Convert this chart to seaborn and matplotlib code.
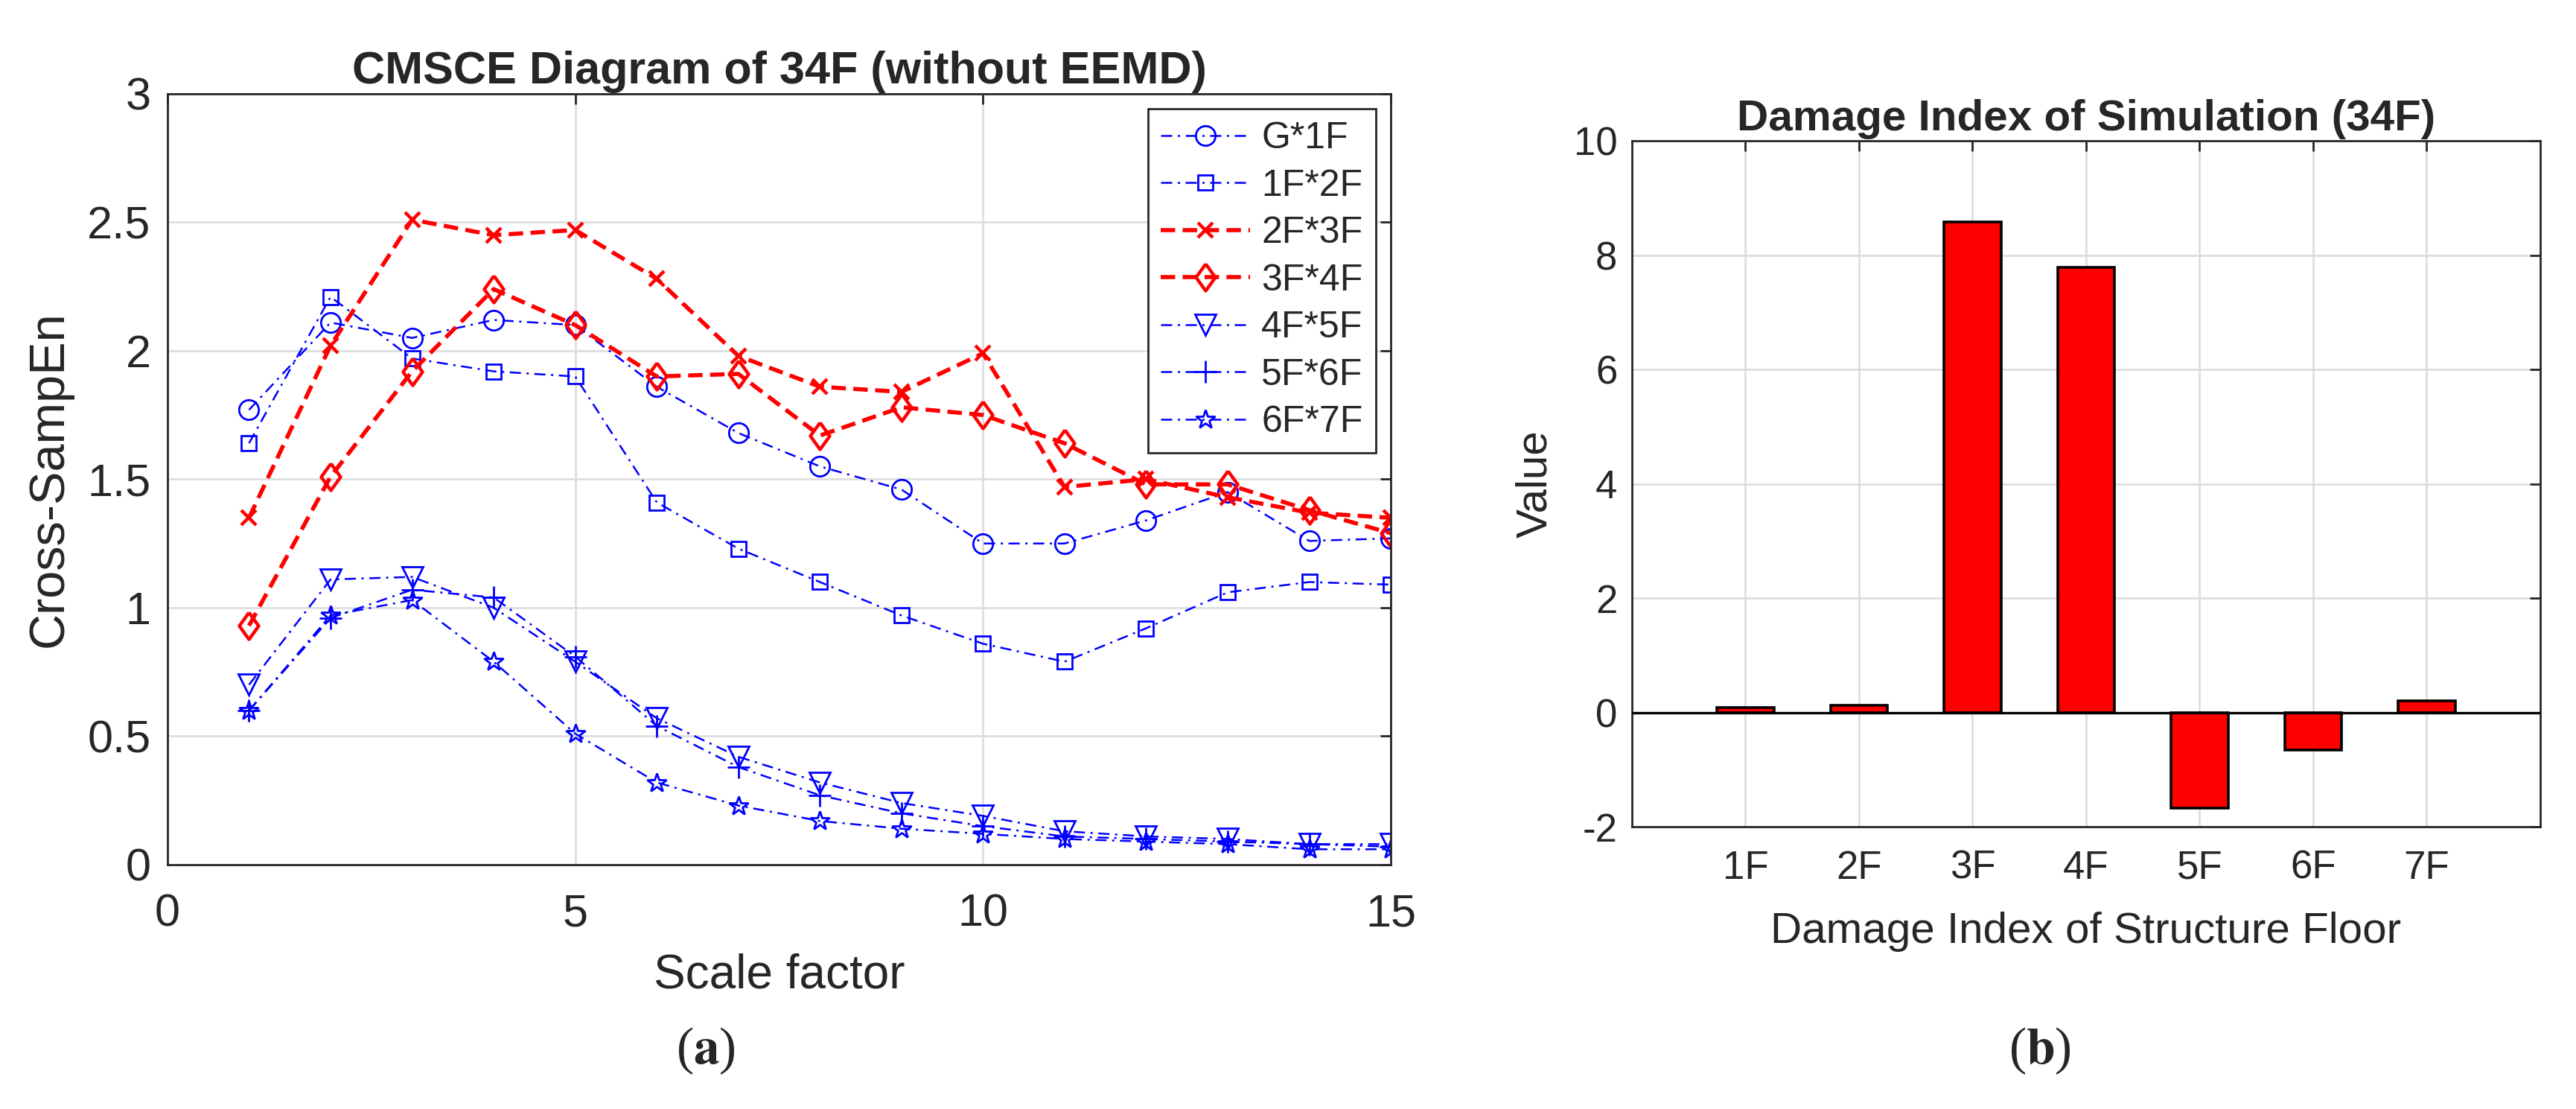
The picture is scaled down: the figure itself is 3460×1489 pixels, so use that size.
import numpy as np
import pandas as pd
import matplotlib
matplotlib.use("Agg")
import matplotlib.pyplot as plt
from matplotlib.ticker import FuncFormatter
import seaborn as sns

# ---------------- data ----------------
scale = [1, 2, 3, 4, 5, 6, 7, 8, 9, 10, 11, 12, 13, 14, 15]
g_1f = [1.77, 2.11, 2.05, 2.12, 2.10, 1.86, 1.68, 1.55, 1.46, 1.25, 1.25, 1.34, 1.45, 1.26, 1.27]
f1_2f = [1.64, 2.21, 1.97, 1.92, 1.90, 1.41, 1.23, 1.10, 0.97, 0.86, 0.79, 0.92, 1.06, 1.10, 1.09]
f2_3f = [1.35, 2.02, 2.51, 2.45, 2.47, 2.28, 1.98, 1.86, 1.84, 1.99, 1.47, 1.50, 1.43, 1.37, 1.35]
f3_4f = [0.93, 1.51, 1.92, 2.24, 2.10, 1.90, 1.91, 1.67, 1.78, 1.75, 1.64, 1.48, 1.48, 1.38, 1.29]
f4_5f = [0.70, 1.11, 1.12, 1.00, 0.79, 0.57, 0.42, 0.32, 0.24, 0.19, 0.13, 0.11, 0.10, 0.08, 0.08]
f5_6f = [0.60, 0.96, 1.07, 1.04, 0.81, 0.54, 0.38, 0.27, 0.20, 0.15, 0.11, 0.10, 0.09, 0.08, 0.07]
f6_7f = [0.60, 0.97, 1.03, 0.79, 0.51, 0.32, 0.23, 0.17, 0.14, 0.12, 0.10, 0.09, 0.08, 0.06, 0.06]
series_names = ["G*1F", "1F*2F", "2F*3F", "3F*4F", "4F*5F", "5F*6F", "6F*7F"]

floors = ["1F", "2F", "3F", "4F", "5F", "6F", "7F"]
damage = [0.08, 0.12, 8.58, 7.78, -1.67, -0.66, 0.20]

# ---------------- style ----------------
sns.set_theme(style="white")
plt.rcParams["font.family"] = ["Liberation Sans", "DejaVu Sans"]
plt.rcParams["mathtext.fontset"] = "stix"
plt.rcParams["axes.unicode_minus"] = False

BLUE = (0, 0, 1)
RED = (1, 0, 0)
SPINE = "#262626"
GRID = "#dedede"

fig = plt.figure(figsize=(17.3, 7.445), dpi=200)
ax1 = fig.add_axes([0.0650, 0.2203, 0.4749, 0.6951])
ax2 = fig.add_axes([0.6335, 0.2545, 0.3526, 0.6185])

# ---------------- left: CMSCE ----------------
diamond = [(0, 1), (0.72, 0), (0, -1), (-0.72, 0), (0, 1)]
all_series = [g_1f, f1_2f, f2_3f, f3_4f, f4_5f, f5_6f, f6_7f]
markers = ["o", "s", "x", diamond, "v", "+", "*"]
colors = [BLUE, BLUE, RED, RED, BLUE, BLUE, BLUE]
msizes = [9.5, 7.5, 7.5, 13, 10, 10.5, 9.5]
dashdot = (0, (6, 3, 1.2, 3))
dashed = (0, (3.5, 1.8))
for vals, name, mk, col, ms in zip(all_series, series_names, markers, colors, msizes):
    is_red = col == RED
    sns.lineplot(x=scale, y=vals, ax=ax1, color=col, label=name,
                 linestyle=dashed if is_red else dashdot,
                 linewidth=2.0 if is_red else 0.9,
                 marker=mk, markersize=ms, markerfacecolor="none",
                 markeredgecolor=col, markeredgewidth=1.6 if is_red else 1.0)

ax1.set_xlim(0, 15)
ax1.set_ylim(0, 3)
ax1.set_xticks([0, 5, 10, 15])
ax1.set_yticks([0, 0.5, 1, 1.5, 2, 2.5, 3])
ax1.yaxis.set_major_formatter(FuncFormatter(lambda v, p: f"{v:g}"))
ax1.set_xlabel("Scale factor", fontsize=23, labelpad=8)
ax1.set_ylabel("Cross-SampEn", fontsize=24, labelpad=7)
ax1.set_title("CMSCE Diagram of 34F (without EEMD)", fontsize=22, fontweight="bold", pad=5)

leg = ax1.legend(loc="upper right", fontsize=18, frameon=True, fancybox=False,
                 framealpha=1, edgecolor=SPINE, handlelength=2.4, labelspacing=0.35,
                 borderaxespad=0.4, handletextpad=0.3, borderpad=0.35)
leg.get_frame().set_linewidth(1.0)

# ---------------- right: damage index ----------------
sns.barplot(x=floors, y=damage, ax=ax2, color="red", saturation=1,
            edgecolor="black", linewidth=1.3, width=0.5, zorder=3)
ax2.axhline(0, color="black", linewidth=1.2, zorder=4)
ax2.set_xlim(-1, 7)
ax2.set_ylim(-2, 10)
ax2.set_yticks([-2, 0, 2, 4, 6, 8, 10])
ax2.set_xticks(range(len(floors)))
ax2.set_xticklabels(floors)
ax2.set_xlabel("Damage Index of Structure Floor", fontsize=21, labelpad=12)
ax2.set_ylabel("Value", fontsize=21, labelpad=9)
ax2.set_title("Damage Index of Simulation (34F)", fontsize=21, fontweight="bold", pad=5)

for ax, lsz, xpad, ypad in ((ax1, 22, 14, 8), (ax2, 19, 11, 7)):
    ax.set_axisbelow(True)
    ax.grid(True, color=GRID, linewidth=1.0)
    for sp in ax.spines.values():
        sp.set_visible(True)
        sp.set_color(SPINE)
        sp.set_linewidth(1.0)
    ax.tick_params(axis="both", which="major", direction="in", length=5, width=1.0,
                   colors=SPINE, labelsize=lsz, top=True, right=True,
                   labeltop=False, labelright=False)
    ax.tick_params(axis="x", pad=xpad)
    ax.tick_params(axis="y", pad=ypad)

# panel labels
fig.text(0.274, 0.052, r"($\mathbf{a}$)", fontsize=25, ha="center", va="center",
         family=["Liberation Serif", "DejaVu Serif"])
fig.text(0.792, 0.052, r"($\mathbf{b}$)", fontsize=25, ha="center", va="center",
         family=["Liberation Serif", "DejaVu Serif"])

fig.savefig("out.png", dpi=200, facecolor="white")
